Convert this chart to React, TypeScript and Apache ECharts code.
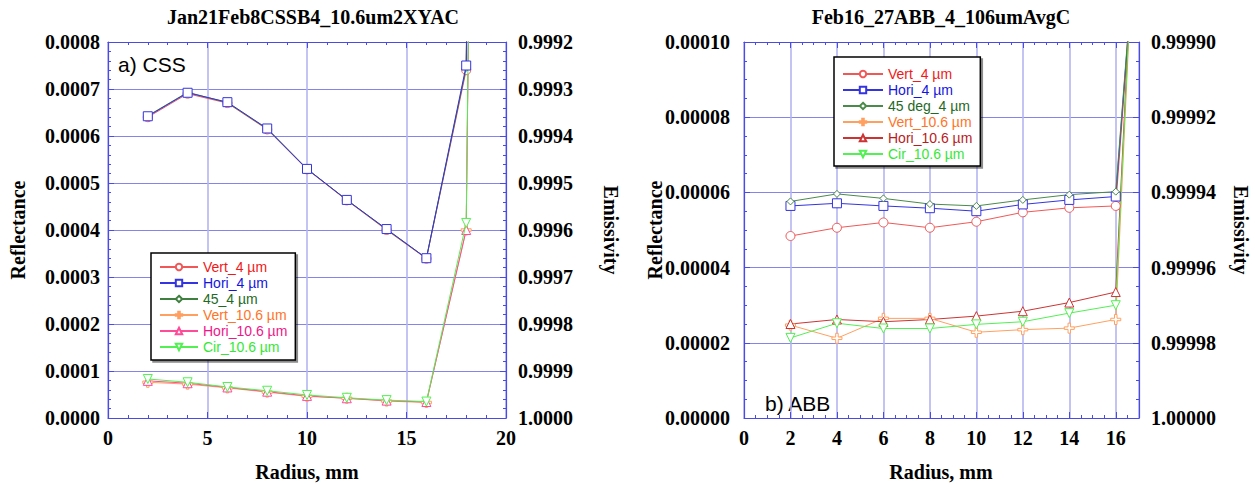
import React, { useEffect, useRef } from "react";
import * as echarts from "echarts";

// ---------- data ----------
const radiusCSS = [2, 4, 6, 8, 10, 12, 14, 16, 18, 20];
const cssVert4 = [0.00064, 0.00069, 0.00067, 0.000614, 0.000529, 0.000463, 0.0004, 0.000339, 0.00074, 0.008];
const cssHori4 = [0.000642, 0.000692, 0.000672, 0.000616, 0.00053, 0.000464, 0.000402, 0.00034, 0.00075, 0.008];
const css45_4 = [0.000643, 0.000693, 0.000671, 0.000615, 0.00053, 0.000464, 0.000401, 0.00034, 0.000745, 0.008];
const cssVert106 = [0.000076, 0.000072, 0.000064, 0.000055, 0.000046, 0.000042, 0.000036, 0.000033, 0.0004, 0.008];
const cssHori106 = [0.000079, 0.000074, 0.000065, 0.000056, 0.000047, 0.000042, 0.000037, 0.000034, 0.0004, 0.008];
const cssCir106 = [0.000083, 0.000076, 0.000066, 0.000058, 0.000049, 0.000043, 0.000038, 0.000035, 0.000415, 0.008];

const radiusABB = [2, 4, 6, 8, 10, 12, 14, 16, 17];
const abbVert4 = [0.0000484, 0.0000506, 0.000052, 0.0000506, 0.0000522, 0.0000547, 0.0000559, 0.0000564, 0.00014];
const abbHori4 = [0.0000564, 0.0000571, 0.0000564, 0.0000558, 0.000055, 0.0000568, 0.000058, 0.0000589, 0.00014];
const abb45_4 = [0.0000576, 0.0000596, 0.0000584, 0.0000569, 0.0000564, 0.000058, 0.0000594, 0.0000602, 0.00014];
const abbVert106 = [0.0000247, 0.0000212, 0.0000265, 0.0000265, 0.0000228, 0.0000235, 0.0000239, 0.0000262, 0.00016];
const abbHori106 = [0.000025, 0.0000262, 0.0000256, 0.0000262, 0.0000271, 0.0000284, 0.0000307, 0.0000335, 0.00016];
const abbCir106 = [0.0000213, 0.0000252, 0.0000238, 0.0000238, 0.0000249, 0.0000256, 0.0000279, 0.00003, 0.00016];

const cssXRange = [0, 20, 5];
const cssYRange = [0, 0.0008, 0.0001];
const abbXRange = [0, 17, 2];
const abbYRange = [0, 0.0001, 0.00002];

const titleCSS = "Jan21Feb8CSSB4_10.6um2XYAC";
const titleABB = "Feb16_27ABB_4_106umAvgC";

// ---------- styles ----------
const SERIF = '"Liberation Serif", "Times New Roman", serif';
const SANS = '"Liberation Sans", Arial, sans-serif';
const AX = "#4a4ae6";
const PLUS = "path://M3,0 L5,0 L5,3 L8,3 L8,5 L5,5 L5,8 L3,8 L3,5 L0,5 L0,3 L3,3 Z";

type Spec = { name: string; line: string; text: string; symbol: string; size: number; rot?: number; z?: number };

const leftSpecs: Spec[] = [
  { name: "Vert_4 µm", line: "#f05858", text: "#f01818", symbol: "circle", size: 9, z: 3 },
  { name: "Hori_4 µm", line: "#3434e0", text: "#1414e0", symbol: "rect", size: 9, z: 5 },
  { name: "45_4 µm", line: "#3f7f3f", text: "#1f6a1f", symbol: "diamond", size: 7, z: 4 },
  { name: "Vert_10.6 µm", line: "#ffa060", text: "#ff7428", symbol: PLUS, size: 10, z: 3 },
  { name: "Hori_10.6 µm", line: "#ff4c98", text: "#f0168a", symbol: "triangle", size: 9, z: 3 },
  { name: "Cir_10.6 µm", line: "#52f052", text: "#34e834", symbol: "triangle", size: 9, rot: 180, z: 4 },
];
const rightSpecs: Spec[] = [
  { name: "Vert_4 µm", line: "#f05858", text: "#f01818", symbol: "circle", size: 9 },
  { name: "Hori_4 µm", line: "#3434e0", text: "#1414e0", symbol: "rect", size: 9 },
  { name: "45 deg_4 µm", line: "#4a8a4a", text: "#1f6a1f", symbol: "diamond", size: 7 },
  { name: "Vert_10.6 µm", line: "#ffa060", text: "#ff7428", symbol: PLUS, size: 10 },
  { name: "Hori_10.6 µm", line: "#cc3434", text: "#b81c1c", symbol: "triangle", size: 9 },
  { name: "Cir_10.6 µm", line: "#52f052", text: "#34e834", symbol: "triangle", size: 9, rot: 180 },
];

const leftValues = [cssVert4, cssHori4, css45_4, cssVert106, cssHori106, cssCir106];
const rightValues = [abbVert4, abbHori4, abb45_4, abbVert106, abbHori106, abbCir106];

function makeSeries(prefix: string, specs: Spec[], xs: number[], vals: number[][], axisIdx: number) {
  return specs.map((s, i) => ({
    type: "line",
    name: prefix + s.name,
    xAxisIndex: axisIdx,
    yAxisIndex: axisIdx,
    data: xs.map((x, j) => [x, vals[i][j]]),
    symbol: s.symbol,
    symbolSize: s.size,
    symbolRotate: s.rot || 0,
    showAllSymbol: true,
    clip: true,
    color: s.line,
    lineStyle: { color: s.line, width: 1 },
    itemStyle: { color: "#ffffff", borderColor: s.line, borderWidth: 1 },
    emphasis: { disabled: true },
    z: s.z || 3,
  }));
}

function makeLegend(prefix: string, specs: Spec[], left: number, top: number, itemWidth: number, padding: number[]) {
  return {
    orient: "vertical",
    left,
    top,
    itemWidth,
    itemHeight: 8,
    itemGap: 0,
    padding,
    selectedMode: false,
    backgroundColor: "#ffffff",
    borderColor: "#000000",
    borderWidth: 1.5,
    shadowColor: "rgba(0,0,0,0.45)",
    shadowOffsetX: 2,
    shadowOffsetY: 2,
    shadowBlur: 0,
    itemStyle: { color: "#ffffff" },
    formatter: (n: string) => n.slice(prefix.length),
    textStyle: { fontFamily: SANS, fontSize: 14, lineHeight: 16 },
    data: specs.map((s) => ({
      name: prefix + s.name,
      textStyle: { color: s.text, fontFamily: SANS, fontSize: 14, lineHeight: 16 },
    })),
  };
}

const labelStyle = { fontFamily: SERIF, fontWeight: "bold", fontSize: 20, color: "#000" };

function xAxisPair(grid: number, range: number[], minorSplit: number, hideMax: boolean) {
  const base = {
    type: "value",
    gridIndex: grid,
    min: range[0],
    max: range[1],
    interval: range[2],
    axisLine: { show: true, onZero: false, lineStyle: { color: AX, width: 1.2 } },
    axisTick: { show: true, inside: true, length: 6, lineStyle: { color: AX } },
    minorTick: { show: true, splitNumber: minorSplit, length: 3, lineStyle: { color: AX } },
  };
  return [
    {
      ...base,
      position: "bottom",
      axisLabel: { ...labelStyle, margin: 10, showMaxLabel: !hideMax },
      splitLine: { show: true, lineStyle: { color: "#b4b4f2", width: 1.6 } },
    },
    {
      ...base,
      position: "top",
      axisLabel: { show: false },
      splitLine: { show: false },
    },
  ];
}

function yAxisPair(grid: number, range: number[], minorSplit: number, digits: number, lm: number, rm: number) {
  const base = {
    type: "value",
    gridIndex: grid,
    min: range[0],
    max: range[1],
    interval: range[2],
    axisLine: { show: true, onZero: false, lineStyle: { color: AX, width: 1.2 } },
    axisTick: { show: true, inside: true, length: 6, lineStyle: { color: AX } },
    minorTick: { show: true, splitNumber: minorSplit, length: 3, lineStyle: { color: AX } },
  };
  return [
    {
      ...base,
      position: "left",
      axisLabel: { ...labelStyle, margin: lm, formatter: (v: number) => v.toFixed(digits) },
      splitLine: { show: true, lineStyle: { color: "#8484ea", width: 1 } },
    },
    {
      ...base,
      position: "right",
      axisLabel: { ...labelStyle, margin: rm, formatter: (v: number) => (1 - v).toFixed(digits) },
      splitLine: { show: false },
    },
  ];
}

function txt(text: string, x: number, y: number, font: any, rotation = 0) {
  return {
    type: "text",
    x,
    y,
    rotation,
    silent: true,
    style: { text, align: "center", verticalAlign: "middle", fill: "#000", ...font },
  };
}

export default function App() {
  const ref = useRef<HTMLDivElement>(null);
  useEffect(() => {
    if (!ref.current) return;
    const chart = echarts.init(ref.current, null, { renderer: "svg" });
    const [xb0, xt0] = xAxisPair(0, cssXRange, 5, false);
    const [xb1, xt1] = xAxisPair(1, abbXRange, 4, true);
    const [yl0, yr0] = yAxisPair(0, cssYRange, 5, 4, 8, 12);
    const [yl1, yr1] = yAxisPair(1, abbYRange, 4, 5, 14, 12);
    const bold = { fontFamily: SERIF, fontWeight: "bold", fontSize: 20 };
    chart.setOption({
      animation: false,
      backgroundColor: "#ffffff",
      grid: [
        { left: 108, top: 42, width: 398, height: 376, containLabel: false },
        { left: 744, top: 42, width: 395, height: 376, containLabel: false },
      ],
      xAxis: [xb0, xb1, xt0, xt1],
      yAxis: [yl0, yl1, yr0, yr1],
      legend: [
        makeLegend("L ", leftSpecs, 151, 253, 38, [6, 8, 5, 8]),
        makeLegend("R ", rightSpecs, 834, 57, 40, [9, 8, 4, 8]),
      ],
      series: [
        ...makeSeries("L ", leftSpecs, radiusCSS, leftValues, 0),
        ...makeSeries("R ", rightSpecs, radiusABB, rightValues, 1),
      ],
      graphic: [
        txt(titleCSS, 313, 17, bold),
        txt(titleABB, 941, 17, bold),
        txt("Radius, mm", 307, 472, bold),
        txt("Radius, mm", 941, 472, bold),
        txt("Reflectance", 18, 230, bold, Math.PI / 2),
        txt("Emissivity", 611, 230, bold, -Math.PI / 2),
        txt("Reflectance", 655, 230, bold, Math.PI / 2),
        txt("Emissivity", 1241, 230, bold, -Math.PI / 2),
        {
          type: "text",
          x: 118,
          y: 64,
          silent: true,
          style: { text: "a) CSS", align: "left", verticalAlign: "middle", fill: "#000", fontFamily: SANS, fontSize: 21 },
        },
        {
          type: "text",
          x: 765,
          y: 403,
          silent: true,
          style: { text: "b) ABB", align: "left", verticalAlign: "middle", fill: "#000", fontFamily: SANS, fontSize: 21 },
        },
      ],
    });
    return () => chart.dispose();
  }, []);
  return <div ref={ref} style={{ position: "fixed", left: 0, top: 0, width: 1255, height: 487, background: "#fff" }} />;
}
